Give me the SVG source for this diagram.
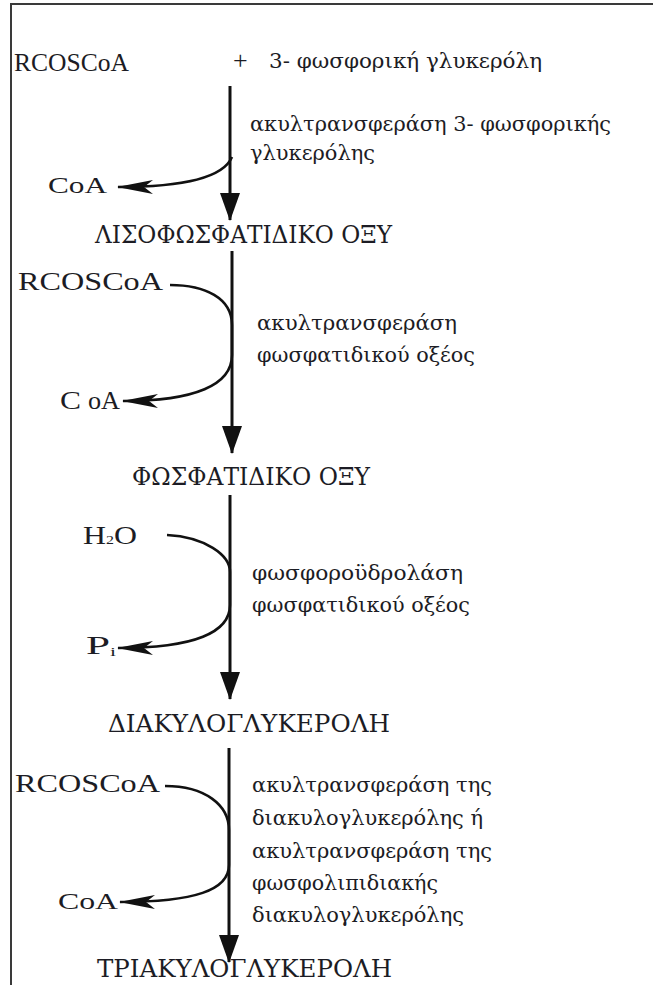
<svg xmlns="http://www.w3.org/2000/svg" width="653" height="985" viewBox="0 0 653 985">
<style>
text{font-family:"Liberation Serif","DejaVu Serif",serif;fill:#1c1c24}
.gr{font-family:"DejaVu Serif","Liberation Serif",serif}
.cmp{font-size:23.5px}
.lat{font-size:25px}
.lbl{font-size:19.5px}
.sm{font-size:24px}
.main{stroke:#111;stroke-width:3;fill:none}
.cur{stroke:#111;stroke-width:2.6;fill:none}
.frame{stroke:#3a3a3a;stroke-width:2;fill:none}
</style>
<defs>
<marker id="mh" markerUnits="userSpaceOnUse" viewBox="0 0 28 20" markerWidth="28" markerHeight="20" refX="27" refY="10" orient="auto">
<path d="M0,0 L28,10 L0,20 z" fill="#111"/>
</marker>
<marker id="ch" markerUnits="userSpaceOnUse" viewBox="0 0 36 14" markerWidth="36" markerHeight="14" refX="35" refY="7" orient="auto">
<path d="M0,0 L36,7 L0,14 L9,7 z" fill="#111"/>
</marker>
</defs>
<path class="frame" d="M11,985 L11,4 L653,4"/>
<g id="connectors">
<path class="main" d="M230,86 L230,220" marker-end="url(#mh)"/>
<path class="main" d="M232,251 L232,453" marker-end="url(#mh)"/>
<path class="main" d="M230,495 L230,699" marker-end="url(#mh)"/>
<path class="main" d="M229,748 L229,962" marker-end="url(#mh)"/>
<path class="cur" d="M232,157 C224,176 190,187 118,187" marker-end="url(#ch)"/>
<path class="cur" d="M170,285 C205,285 232,298 232,325 L232,355 C232,385 195,401 123,401" marker-end="url(#ch)"/>
<path class="cur" d="M167,535 C205,537 230,555 230,572 L230,605 C230,632 195,648 118,648" marker-end="url(#ch)"/>
<path class="cur" d="M165,786 C205,786 229,805 229,830 L229,865 C229,890 195,902 120,902" marker-end="url(#ch)"/>
</g>
<g id="n-start">
<text class="lat" x="14" y="71" textLength="115" lengthAdjust="spacingAndGlyphs">RCOSCoA</text>
<text x="233" y="69" font-size="26">+</text>
<text class="lbl gr" x="269" y="68" textLength="273" lengthAdjust="spacingAndGlyphs">3- φωσφορική γλυκερόλη</text>
</g>
<g id="e1">
<text class="lbl gr" x="250" y="131" textLength="361" lengthAdjust="spacingAndGlyphs">ακυλτρανσφεράση 3- φωσφορικής</text>
<text class="lbl gr" x="250" y="160" textLength="125" lengthAdjust="spacingAndGlyphs">γλυκερόλης</text>
</g>
<g id="coa1"><text class="sm" x="48" y="193" textLength="59" lengthAdjust="spacingAndGlyphs">CoA</text></g>
<g id="n-lyso"><text class="cmp gr" x="95" y="243" textLength="297" lengthAdjust="spacingAndGlyphs">ΛΙΣΟΦΩΣΦΑΤΙΔΙΚΟ ΟΞΥ</text></g>
<g id="rc2"><text class="lat" x="18" y="290" textLength="145" lengthAdjust="spacingAndGlyphs">RCOSCoA</text></g>
<g id="e2">
<text class="lbl gr" x="257" y="330" textLength="200" lengthAdjust="spacingAndGlyphs">ακυλτρανσφεράση</text>
<text class="lbl gr" x="257" y="362" textLength="218" lengthAdjust="spacingAndGlyphs">φωσφατιδικού οξέος</text>
</g>
<g id="coa2"><text x="60" y="409" font-size="25" textLength="21" lengthAdjust="spacingAndGlyphs">C</text><text x="88" y="409" font-size="25" textLength="32" lengthAdjust="spacingAndGlyphs">oA</text></g>
<g id="n-pa"><text class="cmp gr" x="132" y="485" textLength="238" lengthAdjust="spacingAndGlyphs">ΦΩΣΦΑΤΙΔΙΚΟ ΟΞΥ</text></g>
<g id="h2o"><text x="83" y="544" font-size="26" textLength="54" lengthAdjust="spacingAndGlyphs">H<tspan font-size="13">2</tspan>O</text></g>
<g id="e3">
<text class="lbl gr" x="252" y="580" textLength="211" lengthAdjust="spacingAndGlyphs">φωσφοροϋδρολάση</text>
<text class="lbl gr" x="252" y="612" textLength="218" lengthAdjust="spacingAndGlyphs">φωσφατιδικού οξέος</text>
</g>
<g id="pi"><text x="86" y="654" font-size="26" textLength="30" lengthAdjust="spacingAndGlyphs">P<tspan font-size="13" dy="2">i</tspan></text></g>
<g id="n-dag"><text class="cmp gr" x="108" y="732" textLength="282" lengthAdjust="spacingAndGlyphs">ΔΙΑΚΥΛΟΓΛΥΚΕΡΟΛΗ</text></g>
<g id="rc4"><text class="lat" x="15" y="792" textLength="145" lengthAdjust="spacingAndGlyphs">RCOSCoA</text></g>
<g id="e4">
<text class="lbl gr" x="252" y="792" textLength="240" lengthAdjust="spacingAndGlyphs">ακυλτρανσφεράση της</text>
<text class="lbl gr" x="252" y="825" textLength="231" lengthAdjust="spacingAndGlyphs">διακυλογλυκερόλης ή</text>
<text class="lbl gr" x="252" y="858" textLength="240" lengthAdjust="spacingAndGlyphs">ακυλτρανσφεράση της</text>
<text class="lbl gr" x="252" y="890" textLength="186" lengthAdjust="spacingAndGlyphs">φωσφολιπιδιακής</text>
<text class="lbl gr" x="252" y="922" textLength="212" lengthAdjust="spacingAndGlyphs">διακυλογλυκερόλης</text>
</g>
<g id="coa4"><text class="sm" x="58" y="909" textLength="60" lengthAdjust="spacingAndGlyphs">CoA</text></g>
<g id="n-tag"><text class="cmp gr" x="97" y="977" textLength="295" lengthAdjust="spacingAndGlyphs">ΤΡΙΑΚΥΛΟΓΛΥΚΕΡΟΛΗ</text></g>
</svg>
